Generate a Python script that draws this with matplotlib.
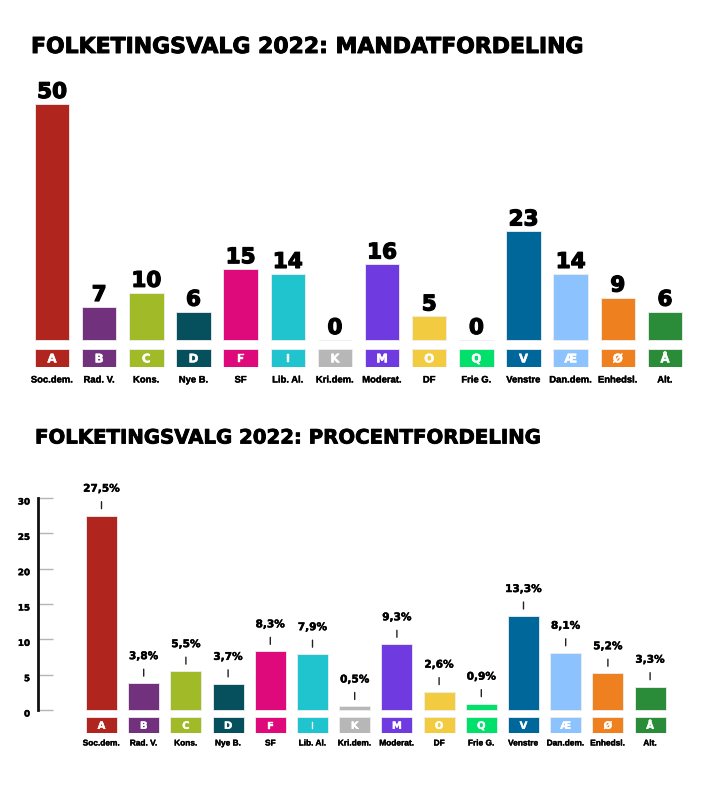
import matplotlib
matplotlib.use('Agg')
import matplotlib.pyplot as plt
import matplotlib.patheffects as pe
from matplotlib.transforms import ScaledTranslation

# ---------------- data ----------------
letters = ['A', 'B', 'C', 'D', 'F', 'I', 'K', 'M', 'O', 'Q', 'V', 'Æ', 'Ø', 'Å']
names = ['Soc.dem.', 'Rad. V.', 'Kons.', 'Nye B.', 'SF', 'Lib. Al.', 'Kri.dem.',
         'Moderat.', 'DF', 'Frie G.', 'Venstre', 'Dan.dem.', 'Enhedsl.', 'Alt.']
seats = [50, 7, 10, 6, 15, 14, 0, 16, 5, 0, 23, 14, 9, 6]
percent = [27.5, 3.8, 5.5, 3.7, 8.3, 7.9, 0.5, 9.3, 2.6, 0.9, 13.3, 8.1, 5.2, 3.3]
colors = ['#B0261F', '#71317D', '#A0BA28', '#064F5C', '#DE0A7B', '#20C4CF', '#B7B7B7',
          '#6F3AE0', '#F2CB41', '#00E06A', '#00679A', '#8CC3FF', '#EE8020', '#2A8C39']
pct_ticks = [0, 5, 10, 15, 20, 25, 30]
title1 = 'FOLKETINGSVALG 2022: MANDATFORDELING'
title2 = 'FOLKETINGSVALG 2022: PROCENTFORDELING'

# ---------------- layout ----------------
W, H = 719, 786
DPI = 100
fig = plt.figure(figsize=(W / DPI, H / DPI), dpi=DPI)
fig.patch.set_facecolor('white')

HEAVY = 'DejaVu Sans'
NAMEF = 'Liberation Sans'
PT = 72.0 / DPI  # points per pixel


def heavy(lw, color='black'):
    return [pe.withStroke(linewidth=lw, foreground=color)]


def ax_px(left, top, right, bottom):
    return fig.add_axes([left / W, 1 - bottom / H, (right - left) / W, (bottom - top) / H])


def clean(ax):
    for s in ax.spines.values():
        s.set_visible(False)
    ax.set_xticks([])
    ax.set_yticks([])
    ax.patch.set_alpha(0)


x = list(range(len(letters)))
BW = 0.73

# ---------- top chart ----------
fig.text(31 / W, 1 - 47 / H, title1, fontsize=15.8, fontweight='bold', family=HEAVY,
         ha='left', va='center', color='black', path_effects=heavy(0.7))

step1 = 47.15
c0 = 52.0
ax1 = ax_px(c0 - step1 / 2, 104, c0 + 13 * step1 + step1 / 2, 340)
clean(ax1)
ax1.set_xlim(-0.5, 13.5)
ax1.set_ylim(0, 50)
ax1.bar(x, seats, width=BW, color=colors, edgecolor='#eeeeee', linewidth=0.6,
        clip_on=False)
for xi, v in zip(x, seats):
    ax1.annotate(str(v), xy=(xi, v), xytext=(0, 6 * PT), textcoords='offset points',
                 ha='center', va='baseline', fontsize=15.5, fontweight='bold',
                 family=HEAVY, color='black', annotation_clip=False,
                 path_effects=heavy(0.9))

s1 = ax_px(c0 - step1 / 2, 349, c0 + 13 * step1 + step1 / 2, 367)
clean(s1)
s1.set_xlim(-0.5, 13.5)
s1.set_ylim(0, 1)
s1.bar(x, [1] * len(x), width=BW, color=colors, edgecolor='#eeeeee', linewidth=0.6)
for xi, l, n in zip(x, letters, names):
    s1.text(xi, 0.45, l, ha='center', va='center', color='white', fontsize=8.5,
            fontweight='bold', family=HEAVY, path_effects=heavy(0.3, 'white'))
    s1.text(xi, -(380 - 367) / 18, n, ha='center', va='center', color='black',
            fontsize=6.8, fontweight='bold', family=NAMEF, clip_on=False,
            path_effects=heavy(0.25))

# ---------- bottom chart ----------
fig.text(35 / W, 1 - 438 / H, title2, fontsize=14.2, fontweight='bold', family=HEAVY,
         ha='left', va='center', color='black', path_effects=heavy(0.6))

step2 = 42.2
c20 = 101.5
left_b = c20 - step2 / 2
axis_x = 38.0
ax2 = ax_px(axis_x, 498, c20 + 13 * step2 + step2 / 2, 710)
ax2.patch.set_alpha(0)
for k in ['top', 'right', 'bottom']:
    ax2.spines[k].set_visible(False)
ax2.spines['left'].set_linewidth(2)
ax2.spines['left'].set_color('#111111')
ax2.set_xlim(-0.5 - (left_b - axis_x) / step2, 13.5)
ax2.set_ylim(0, 30)
ax2.set_xticks([])
ax2.set_yticks(pct_ticks)
ax2.set_yticklabels([str(t) for t in pct_ticks])
ax2.tick_params(axis='y', direction='in', length=15 * PT, width=1.0, color='#b5b5b5',
                pad=8 * PT, labelsize=6.3)
for lab in ax2.get_yticklabels():
    lab.set_fontweight('bold')
    lab.set_family(HEAVY)
    lab.set_path_effects(heavy(0.3))
    lab.set_transform(lab.get_transform() + ScaledTranslation(0, -3 / DPI, fig.dpi_scale_trans))
ax2.bar(x, percent, width=BW, color=colors, edgecolor='#eeeeee', linewidth=0.6,
        clip_on=False)
for xi, v in zip(x, percent):
    ax2.annotate('', xy=(xi, v), xytext=(0, 14 * PT), textcoords='offset points',
                 arrowprops=dict(arrowstyle='-', color='#222222', lw=1.0,
                                 shrinkA=0, shrinkB=7 * PT),
                 annotation_clip=False)
    ax2.annotate(f'{v:.1f}'.replace('.', ',') + '%', xy=(xi, v), xytext=(0, 27 * PT),
                 textcoords='offset points', ha='center', va='center', fontsize=7.6,
                 fontweight='bold', family=HEAVY, color='black', annotation_clip=False,
                 path_effects=heavy(0.3))

s2 = ax_px(left_b, 717, c20 + 13 * step2 + step2 / 2, 733)
clean(s2)
s2.set_xlim(-0.5, 13.5)
s2.set_ylim(0, 1)
s2.bar(x, [1] * len(x), width=BW, color=colors, edgecolor='#eeeeee', linewidth=0.6)
for xi, l, n in zip(x, letters, names):
    s2.text(xi, 0.45, l, ha='center', va='center', color='white', fontsize=7.2,
            fontweight='bold', family=HEAVY, path_effects=heavy(0.25, 'white'))
    s2.text(xi, -(744 - 733) / 16, n, ha='center', va='center', color='black',
            fontsize=6.0, fontweight='bold', family=NAMEF, clip_on=False,
            path_effects=heavy(0.25))

fig.savefig('out.png', dpi=DPI, facecolor='white')
